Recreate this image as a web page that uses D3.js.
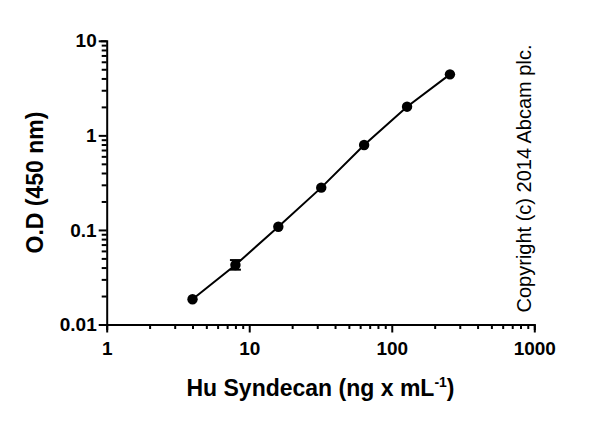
<!DOCTYPE html>
<html>
<head>
  <script src="https://d3js.org/d3.v7.min.js"></script>
  <style>
    body { margin: 0; background: #fff; }
    svg text { font-family: Arial, "Liberation Sans", sans-serif; fill: #000; }
    .axis path, .axis line { stroke: #000; stroke-width: 2px; fill: none; }
    .axis text { font-size: 19px; font-weight: bold; }
  </style>
</head>
<body>
  <div id="chart"></div>
  <script>
    // Data
    const conc = [4, 8, 16, 32, 64, 128, 256];
    const od = [0.0185, 0.0426, 0.108, 0.280, 0.79, 2.01, 4.42];
    const errLow = [null, 0.038, null, null, null, null, null];
    const errHigh = [null, 0.048, null, null, null, null, null];

    const xMajor = [1, 10, 100, 1000];
    const yMajor = [0.01, 0.1, 1, 10];
    const yMajorLabels = ["0.01", "0.1", "1", "10"];

    const width = 600, height = 422;

    const svg = d3.select("#chart")
      .append("svg")
        .attr("width", width)
        .attr("height", height);

    const x = d3.scaleLog().domain([1, 1000]).range([106.7, 534.3]);
    const y = d3.scaleLog().domain([0.01, 10]).range([324.5, 40.8]);

    // minor + major tick values for a log axis
    function logTicks(majors) {
      const t = [];
      majors.forEach((m, i) => {
        t.push(m);
        if (i < majors.length - 1) {
          for (let k = 2; k <= 9; k++) t.push(m * k);
        }
      });
      return t;
    }
    const isMajor = (list, v) => list.some(m => Math.abs(m - v) / m < 1e-9);

    // x axis
    const xAxis = d3.axisBottom(x)
      .tickValues(logTicks(xMajor))
      .tickSizeOuter(0)
      .tickSize(4.5)
      .tickPadding(10)
      .tickFormat(d => isMajor(xMajor, d) ? String(d) : "");

    const gx = svg.append("g")
      .attr("class", "axis")
      .attr("transform", `translate(0, ${y(0.01)})`)
      .call(xAxis);
    gx.selectAll(".tick")
      .filter(d => isMajor(xMajor, d))
      .select("line").attr("y2", 8);
    gx.selectAll(".tick text").attr("y", 17).attr("dy", "0.71em");

    // y axis
    const yAxis = d3.axisLeft(y)
      .tickValues(logTicks(yMajor))
      .tickSizeOuter(0)
      .tickSize(5)
      .tickPadding(10)
      .tickFormat(d => {
        const i = yMajor.findIndex(m => Math.abs(m - d) / m < 1e-9);
        return i >= 0 ? yMajorLabels[i] : "";
      });

    const gy = svg.append("g")
      .attr("class", "axis")
      .attr("transform", `translate(${x(1)}, 0)`)
      .call(yAxis);
    gy.selectAll(".tick")
      .filter(d => isMajor(yMajor, d))
      .select("line").attr("x2", -8);
    gy.selectAll(".tick text").attr("x", -10);

    gx.select(".domain").attr("stroke-linecap", "square");
    gy.select(".domain").attr("stroke-linecap", "square");

    const points = conc.map((c, i) => ({ c: c, v: od[i], lo: errLow[i], hi: errHigh[i] }));

    // connecting line
    const line = d3.line()
      .x(d => x(d.c))
      .y(d => y(d.v));

    svg.append("path")
      .datum(points)
      .attr("fill", "none")
      .attr("stroke", "#000")
      .attr("stroke-width", 2)
      .attr("d", line);

    // error bars
    const eb = svg.append("g")
      .selectAll("g")
      .data(points.filter(d => d.lo !== null))
      .join("g")
      .attr("stroke", "#000")
      .attr("stroke-width", 2);
    eb.append("line")
      .attr("x1", d => x(d.c)).attr("x2", d => x(d.c))
      .attr("y1", d => y(d.lo)).attr("y2", d => y(d.hi));
    eb.append("line")
      .attr("x1", d => x(d.c) - 5.5).attr("x2", d => x(d.c) + 5.5)
      .attr("y1", d => y(d.lo)).attr("y2", d => y(d.lo));
    eb.append("line")
      .attr("x1", d => x(d.c) - 5.5).attr("x2", d => x(d.c) + 5.5)
      .attr("y1", d => y(d.hi)).attr("y2", d => y(d.hi));

    // markers
    svg.append("g")
      .selectAll("circle")
      .data(points)
      .join("circle")
      .attr("cx", d => x(d.c))
      .attr("cy", d => y(d.v))
      .attr("r", 5.2)
      .attr("fill", "#000");

    // axis titles
    const xt = svg.append("text")
      .attr("x", 320.5)
      .attr("y", 396)
      .attr("text-anchor", "middle")
      .style("font-size", "23px")
      .style("font-weight", "bold")
      .text("Hu Syndecan (ng x mL");
    xt.append("tspan")
      .attr("dy", -9)
      .style("font-size", "14px")
      .text("-1");
    xt.append("tspan")
      .attr("dy", 9)
      .text(")");

    svg.append("text")
      .attr("transform", "translate(43, 182.5) rotate(-90)")
      .attr("text-anchor", "middle")
      .style("font-size", "23px")
      .style("font-weight", "bold")
      .text("O.D (450 nm)");

    svg.append("text")
      .attr("transform", "translate(531, 178.5) rotate(-90)")
      .attr("text-anchor", "middle")
      .style("font-size", "20px")
      .text("Copyright (c) 2014 Abcam plc.");
  </script>
</body>
</html>
